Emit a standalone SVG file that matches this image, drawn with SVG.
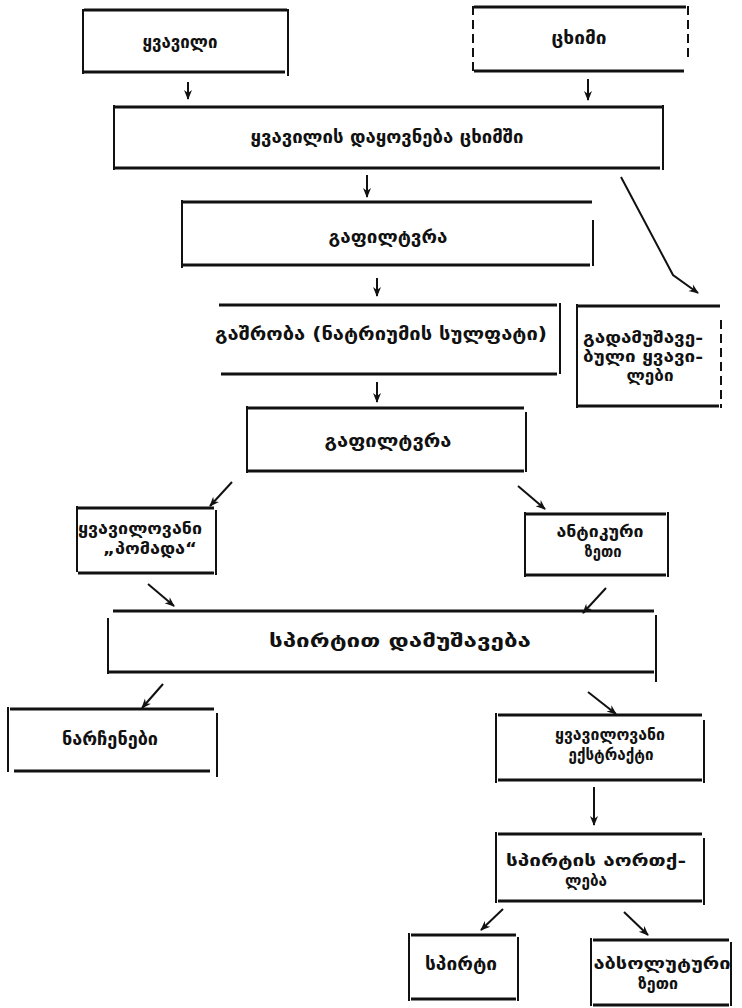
<svg xmlns="http://www.w3.org/2000/svg" width="742" height="1008" viewBox="0 0 742 1008">
  <defs>
    <marker id="head" viewBox="0 0 10 10" refX="9" refY="5" markerWidth="10" markerHeight="10" markerUnits="userSpaceOnUse" orient="auto">
      <path d="M0,1 L10,5 L0,9 L3,5 z" fill="#111"/>
    </marker>
    <style>
      .h { stroke: #111; stroke-width: 3; fill: none; }
      .v { stroke: #111; stroke-width: 2; fill: none; }
      .vd { stroke: #111; stroke-width: 2; fill: none; stroke-dasharray: 9 5; }
      .t { font-family: "DejaVu Sans", "Noto Sans", sans-serif; font-weight: bold; font-size: 18px; fill: #111; text-anchor: middle; }
      .m { font-size: 16px; }
      .tl { text-anchor: start; }
      .c { stroke: #111; stroke-width: 2; fill: none; marker-end: url(#head); }
    </style>
  </defs>
  <rect width="742" height="1008" fill="#fff"/>

  <!-- process boxes: heavy top/bottom rules, lighter sides -->
  <g id="flower">
    <path class="h" d="M84,10 H287 M84,72 H285"/>
    <path class="v" d="M83,9 V74 M288,9 V76"/>
    <text class="t" x="180" y="48" textLength="75" lengthAdjust="spacingAndGlyphs">ყვავილი</text>
  </g>
  <g id="fat">
    <path class="h" d="M474,7 H686 M474,71 H684"/>
    <path class="vd" d="M473,6 V73 M688,6 V62"/>
    <text class="t" x="579" y="44" textLength="55" lengthAdjust="spacingAndGlyphs">ცხიმი</text>
  </g>
  <g id="enfleurage">
    <path class="h" d="M115,107 H662 M115,168 H660"/>
    <path class="v" d="M114,105 V170 M663,105 V170"/>
    <text class="t" x="387" y="143" textLength="273" lengthAdjust="spacingAndGlyphs">ყვავილის დაყოვნება ცხიმში</text>
  </g>
  <g id="filter1">
    <path class="h" d="M183,202 H592 M183,265 H590"/>
    <path class="v" d="M182,200 V268 M593,220 V266"/>
    <text class="t" x="388" y="243" textLength="119" lengthAdjust="spacingAndGlyphs">გაფილტვრა</text>
  </g>
  <g id="drying">
    <path class="h" d="M219,305 H557 M221,374 H557"/>
    <path class="v" d="M560,303 V374"/>
    <text class="t" x="381" y="340" textLength="332" lengthAdjust="spacingAndGlyphs">გაშრობა (ნატრიუმის სულფატი)</text>
  </g>
  <g id="spent">
    <path class="h" d="M578,306 H720 M578,406 H719"/>
    <path class="v" d="M577,304 V408"/>
    <path class="vd" d="M721,320 V408"/>
    <text class="t m tl" x="583" y="343" textLength="120" lengthAdjust="spacingAndGlyphs">გადამუშავე-</text>
    <text class="t m tl" x="583" y="362" textLength="120" lengthAdjust="spacingAndGlyphs">ბული ყვავი-</text>
    <text class="t m" x="650" y="381" textLength="47" lengthAdjust="spacingAndGlyphs">ლები</text>
  </g>
  <g id="filter2">
    <path class="h" d="M248,408 H524 M248,471 H524"/>
    <path class="v" d="M247,406 V473 M526,412 V472"/>
    <text class="t" x="388" y="447" textLength="127" lengthAdjust="spacingAndGlyphs">გაფილტვრა</text>
  </g>
  <g id="pomade">
    <path class="h" d="M78,508 H214 M78,573 H214"/>
    <path class="v" d="M77,506 V572 M216,510 V575"/>
    <text class="t m" x="140" y="534" textLength="124" lengthAdjust="spacingAndGlyphs">ყვავილოვანი</text>
    <text class="t m" x="150" y="554" textLength="94" lengthAdjust="spacingAndGlyphs">„პომადა“</text>
  </g>
  <g id="antique-oil">
    <path class="h" d="M526,514 H666 M526,575 H666"/>
    <path class="v" d="M525,512 V577 M668,512 V577"/>
    <text class="t m" x="600" y="537" textLength="87" lengthAdjust="spacingAndGlyphs">ანტიკური</text>
    <text class="t m" x="603" y="557" textLength="37" lengthAdjust="spacingAndGlyphs">ზეთი</text>
  </g>
  <g id="alcohol-wash">
    <path class="h" d="M113,611 H654 M109,672 H654"/>
    <path class="v" d="M108,618 V674 M656,615 V682"/>
    <text class="t" x="400" y="647" textLength="262" lengthAdjust="spacingAndGlyphs">სპირტით დამუშავება</text>
  </g>
  <g id="residue">
    <path class="h" d="M10,709 H214 M14,771 H210"/>
    <path class="v" d="M8,707 V772 M217,713 V777"/>
    <text class="t" x="110" y="745" textLength="96" lengthAdjust="spacingAndGlyphs">ნარჩენები</text>
  </g>
  <g id="extract">
    <path class="h" d="M498,715 H702 M498,780 H702"/>
    <path class="v" d="M496,713 V783 M704,720 V783"/>
    <text class="t m" x="610" y="740" textLength="110" lengthAdjust="spacingAndGlyphs">ყვავილოვანი</text>
    <text class="t m" x="611" y="760" textLength="85" lengthAdjust="spacingAndGlyphs">ექსტრაქტი</text>
  </g>
  <g id="evaporation">
    <path class="h" d="M498,834 H702 M498,901 H702"/>
    <path class="v" d="M496,832 V903 M704,838 V905"/>
    <text class="t m" x="596" y="866" textLength="180" lengthAdjust="spacingAndGlyphs">სპირტის აორთქ-</text>
    <text class="t m" x="586" y="886" textLength="42" lengthAdjust="spacingAndGlyphs">ლება</text>
  </g>
  <g id="alcohol">
    <path class="h" d="M411,935 H516 M411,999 H516"/>
    <path class="v" d="M409,933 V1001 M518,937 V1001"/>
    <text class="t" x="461" y="970" textLength="72" lengthAdjust="spacingAndGlyphs">სპირტი</text>
  </g>
  <g id="absolute-oil">
    <path class="h" d="M593,940 H729 M593,1005 H729"/>
    <path class="v" d="M591,938 V1006 M731,942 V1006"/>
    <text class="t m" x="662" y="969" textLength="137" lengthAdjust="spacingAndGlyphs">აბსოლუტური</text>
    <text class="t m" x="658" y="989" textLength="40" lengthAdjust="spacingAndGlyphs">ზეთი</text>
  </g>

  <!-- flow arrows -->
  <g id="connectors">
    <path class="c" d="M188,82 V99"/>
    <path class="c" d="M588,79 V100"/>
    <path class="c" d="M367,175 V197"/>
    <path class="c" d="M621,177 L673,275 L698,293"/>
    <path class="c" d="M377,278 V296"/>
    <path class="c" d="M377,382 V402"/>
    <path class="c" d="M232,482 L210,506"/>
    <path class="c" d="M518,486 L545,509"/>
    <path class="c" d="M148,584 L174,606"/>
    <path class="c" d="M606,588 L583,613"/>
    <path class="c" d="M163,684 L142,708"/>
    <path class="c" d="M588,692 L616,714"/>
    <path class="c" d="M594,787 V825"/>
    <path class="c" d="M503,909 L481,930"/>
    <path class="c" d="M624,912 L648,935"/>
  </g>
</svg>
